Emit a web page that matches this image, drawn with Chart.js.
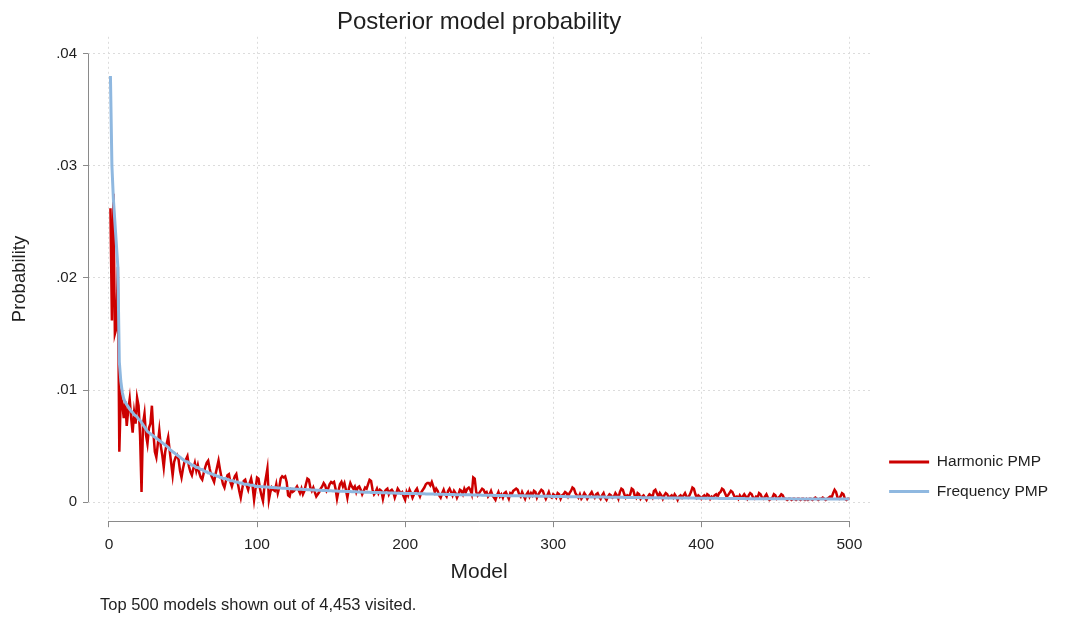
<!DOCTYPE html>
<html>
<head>
<meta charset="utf-8">
<script src="https://cdn.jsdelivr.net/npm/chart.js@4.4.1/dist/chart.umd.min.js"></script>
<style>
  html, body { margin: 0; padding: 0; background: #ffffff; }
  #wrap { width: 1067px; height: 618px; }
</style>
</head>
<body>
<div id="wrap"><canvas id="c" width="1067" height="618"></canvas></div>
<script>
// ---------- data ----------
const chartTitle = "Posterior model probability";
const xTitle = "Model";
const yTitle = "Probability";
const footnote = "Top 500 models shown out of 4,453 visited.";
const seriesNames = ["Harmonic PMP", "Frequency PMP"];
const xTicks = [0, 100, 200, 300, 400, 500];
const yTicks = [0, 0.01, 0.02, 0.03, 0.04];
const yTickLabels = ["0", ".01", ".02", ".03", ".04"];
const models = Array.from({length: 500}, (_, i) => i + 1);

const harmonicPMP = [
.0262,.0162,.0275,.0150,.0155,.0210,.0045,.0095,.0088,.0075,
.0090,.0068,.0082,.0092,.0075,.0062,.0080,.0070,.0093,.0086,
.0060,.0009,.0070,.0079,.0060,.0052,.0066,.0070,.0086,.0062,
.0045,.0040,.0052,.0064,.0050,.0042,.0031,.0045,.0052,.0058,
.0046,.0035,.0024,.0036,.0040,.0042,.0038,.0028,.0022,.0030,
.0036,.0038,.0041,.0032,.0027,.0024,.0030,.0035,.0028,.0033,
.0026,.0022,.0020,.0026,.0031,.0035,.0037,.0030,.0024,.0021,
.0018,.0025,.0031,.0037,.0029,.0022,.0016,.0013,.0019,.0024,
.0025,.0018,.0014,.0019,.0023,.0025,.0017,.0010,.0004,.0012,
.0019,.0020,.0015,.0011,.0017,.0021,.0014,.0002,.0012,.0022,
.0021,.0012,.0006,.0001,.0014,.0022,.0030,.0002,.0009,.0013,
.0011,.0010,.0016,.0008,.0013,.0021,.0023,.0022,.0023,.0018,
.0006,.0005,.0011,.0009,.0010,.0012,.0014,.0011,.0008,.0012,
.0007,.0010,.0016,.0021,.0020,.0013,.0010,.0013,.0009,.0005,
.0007,.0009,.0012,.0014,.0017,.0015,.0010,.0012,.0016,.0018,
.0017,.0018,.0012,.0003,.0010,.0016,.0018,.0014,.0017,.0011,
.0004,.0012,.0017,.0014,.0012,.0014,.0009,.0013,.0014,.0011,
.0007,.0010,.0013,.0012,.0016,.0020,.0019,.0011,.0007,.0009,
.0012,.0008,.0011,.0010,.0003,.0009,.0011,.0012,.0007,.0010,
.0011,.0009,.0004,.0008,.0012,.0010,.0008,.0009,.0005,.0002,
.0009,.0006,.0011,.0008,.0004,.0007,.0010,.0012,.0008,.0005,
.0009,.0011,.0013,.0016,.0017,.0017,.0015,.0018,.0014,.0009,
.0012,.0010,.0006,.0004,.0008,.0011,.0007,.0005,.0010,.0012,
.0009,.0006,.0010,.0008,.0004,.0007,.0011,.0010,.0007,.0012,
.0009,.0012,.0013,.0011,.0007,.0022,.0021,.0009,.0006,.0008,
.0010,.0012,.0011,.0008,.0009,.0005,.0007,.0010,.0006,.0004,
.0002,.0006,.0009,.0005,.0007,.0004,.0008,.0009,.0006,.0003,
.0008,.0007,.0010,.0011,.0012,.0011,.0007,.0005,.0009,.0006,
.0003,.0007,.0009,.0005,.0008,.0006,.0010,.0009,.0004,.0007,
.0009,.0011,.0010,.0006,.0003,.0006,.0009,.0005,.0004,.0007,
.0006,.0004,.0008,.0007,.0003,.0006,.0007,.0009,.0008,.0005,
.0008,.0010,.0013,.0012,.0008,.0006,.0004,.0007,.0003,.0005,
.0008,.0006,.0003,.0005,.0007,.0009,.0006,.0004,.0007,.0008,
.0005,.0003,.0006,.0008,.0004,.0002,.0005,.0007,.0006,.0004,
.0005,.0008,.0006,.0003,.0009,.0012,.0011,.0007,.0004,.0006,
.0005,.0007,.0012,.0011,.0006,.0004,.0008,.0007,.0003,.0005,
.0006,.0004,.0002,.0005,.0007,.0006,.0004,.0010,.0011,.0008,
.0005,.0008,.0006,.0003,.0006,.0008,.0007,.0004,.0005,.0006,
.0004,.0007,.0005,.0002,.0005,.0006,.0004,.0006,.0008,.0005,
.0004,.0006,.0009,.0013,.0012,.0007,.0004,.0006,.0005,.0003,
.0005,.0006,.0004,.0007,.0006,.0003,.0005,.0004,.0006,.0007,
.0005,.0008,.0009,.0012,.0011,.0008,.0005,.0006,.0008,.0010,
.0009,.0006,.0004,.0005,.0003,.0006,.0004,.0005,.0007,.0005,
.0003,.0006,.0008,.0007,.0004,.0003,.0005,.0004,.0008,.0007,
.0004,.0003,.0005,.0007,.0004,.0002,.0003,.0004,.0007,.0006,
.0003,.0004,.0005,.0007,.0006,.0003,.0003,.0002,.0003,.0003,
.0002,.0003,.0003,.0002,.0003,.0003,.0002,.0003,.0003,.0002,
.0003,.0002,.0003,.0003,.0002,.0003,.0004,.0003,.0002,.0003,
.0003,.0004,.0003,.0002,.0003,.0004,.0005,.0004,.0008,.0011,
.0009,.0004,.0003,.0005,.0008,.0007,.0003,.0002,.0003,.0003
];

const frequencyPMP = [
.0380,.0300,.0270,.0250,.0230,.0210,.0125,.0108,.0098,.0092,
.0089,.0087,.0085,.0083,.0081,.0080,.0078,.0077,.0076,.0074,
.0073,.0071,.0069,.0067,.0065,.0063,.0062,.0061,.0060,.0059,
.0058,.0057,.0056,.0055,.0054,.0053,.0052,.0051,.0050,.0049,
.0047,.0046,.0045,.0044,.0043,.0042,.0041,.0040,.0039,.0038,
.0037,.0036,.0036,.0035,.0034,.0033,.0033,.0032,.0031,.0031,
.0030,.0029,.0029,.0028,.0027,.0027,.0026,.0026,.0025,.0025,
.0024,.0024,.0023,.0023,.0022,.0022,.0021,.0021,.0021,.0020,
.0020,.0019,.0019,.0019,.0018,.0018,.0018,.0017,.0017,.0017,
.0016,.0016,.0016,.0016,.0015,.0015,.0015,.0015,.0014,.0014,
.00140,.00139,.00138,.00137,.00136,.00135,.00134,.00133,.00132,.00131,
.00130,.00129,.00128,.00127,.00126,.00125,.00124,.00124,.00123,.00122,
.00121,.00120,.00119,.00119,.00118,.00117,.00116,.00115,.00115,.00114,
.00113,.00112,.00112,.00111,.00110,.00110,.00109,.00108,.00108,.00107,
.00106,.00106,.00105,.00104,.00104,.00103,.00103,.00102,.00101,.00101,
.00100,.00100,.00099,.00099,.00098,.00097,.00097,.00096,.00096,.00095,
.00095,.00094,.00094,.00093,.00093,.00092,.00092,.00091,.00091,.00090,
.00090,.00089,.00089,.00088,.00088,.00088,.00087,.00087,.00086,.00086,
.00085,.00085,.00085,.00084,.00084,.00083,.00083,.00083,.00082,.00082,
.00081,.00081,.00081,.00080,.00080,.00080,.00079,.00079,.00078,.00078,
.00078,.00077,.00077,.00077,.00076,.00076,.00076,.00075,.00075,.00075,
.00074,.00074,.00074,.00073,.00073,.00073,.00072,.00072,.00072,.00071,
.00071,.00071,.00071,.00070,.00070,.00070,.00069,.00069,.00069,.00068,
.00068,.00068,.00068,.00067,.00067,.00067,.00066,.00066,.00066,.00066,
.00065,.00065,.00065,.00065,.00064,.00064,.00064,.00063,.00063,.00063,
.00063,.00062,.00062,.00062,.00062,.00061,.00061,.00061,.00061,.00060,
.00060,.00060,.00060,.00059,.00059,.00059,.00059,.00058,.00058,.00058,
.00058,.00057,.00057,.00057,.00057,.00056,.00056,.00056,.00056,.00056,
.00055,.00055,.00055,.00055,.00054,.00054,.00054,.00054,.00054,.00053,
.00053,.00053,.00053,.00052,.00052,.00052,.00052,.00052,.00051,.00051,
.00051,.00051,.00051,.00050,.00050,.00050,.00050,.00050,.00049,.00049,
.00049,.00049,.00049,.00048,.00048,.00048,.00048,.00048,.00047,.00047,
.00047,.00047,.00047,.00047,.00046,.00046,.00046,.00046,.00046,.00045,
.00045,.00045,.00045,.00045,.00045,.00044,.00044,.00044,.00044,.00044,
.00044,.00043,.00043,.00043,.00043,.00043,.00043,.00042,.00042,.00042,
.00042,.00042,.00042,.00041,.00041,.00041,.00041,.00041,.00041,.00040,
.00040,.00040,.00040,.00040,.00040,.00040,.00039,.00039,.00039,.00039,
.00039,.00039,.00039,.00038,.00038,.00038,.00038,.00038,.00038,.00038,
.00037,.00037,.00037,.00037,.00037,.00037,.00037,.00036,.00036,.00036,
.00036,.00036,.00036,.00036,.00036,.00035,.00035,.00035,.00035,.00035,
.00035,.00035,.00035,.00034,.00034,.00034,.00034,.00034,.00034,.00034,
.00034,.00033,.00033,.00033,.00033,.00033,.00033,.00033,.00033,.00033,
.00032,.00032,.00032,.00032,.00032,.00032,.00032,.00032,.00032,.00031,
.00031,.00031,.00031,.00031,.00031,.00031,.00031,.00031,.00031,.00031,
.00031,.00031,.00030,.00030,.00030,.00030,.00030,.00030,.00030,.00030,
.00030,.00030,.00030,.00030,.00030,.00030,.00030,.00030,.00030,.00030,
.00030,.00029,.00029,.00029,.00029,.00029,.00029,.00029,.00029,.00029,
.00029,.00029,.00029,.00029,.00029,.00029,.00029,.00029,.00029,.00029,
.00029,.00029,.00028,.00028,.00028,.00028,.00028,.00028,.00028,.00028,
.00028,.00028,.00028,.00028,.00028,.00028,.00028,.00028,.00028,.00028
];

// ---------- styling ----------
const FONT = "'Liberation Sans', Arial, Helvetica, sans-serif";
const TEXT = "#1f1f1f";
const AXIS = "#8a8a8a";
const GRID = "#dcdcdc";

const axisLinesPlugin = {
  id: 'axisLines',
  beforeDatasetsDraw(chart) {
    const {ctx, chartArea, scales: {x, y}} = chart;
    ctx.save();
    ctx.strokeStyle = AXIS;
    ctx.lineWidth = 1;
    ctx.beginPath();
    const yb = Math.round(chartArea.bottom) + 0.5;
    ctx.moveTo(x.getPixelForValue(xTicks[0]), yb);
    ctx.lineTo(x.getPixelForValue(xTicks[xTicks.length - 1]), yb);
    const xl = Math.round(chartArea.left) + 0.5;
    ctx.moveTo(xl, y.getPixelForValue(yTicks[0]));
    ctx.lineTo(xl, y.getPixelForValue(yTicks[yTicks.length - 1]));
    ctx.stroke();
    ctx.restore();
  }
};

const layoutTweaks = {
  id: 'layoutTweaks',
  afterLayout(chart) {
    const lg = chart.legend;
    if (lg) {
      const h = lg.bottom - lg.top;
      lg.bottom = chart.chartArea.bottom - 8;
      lg.top = lg.bottom - h;
      lg.left += 5; lg.right += 5;
    }
    chart.boxes.forEach(b => {
      if (b.options && b.options.text === footnote) { b.left += 12; b.right += 12; }
    });
  }
};

new Chart(document.getElementById('c'), {
  type: 'line',
  data: {
    labels: models,
    datasets: [
      { label: seriesNames[0], data: harmonicPMP, borderColor: '#cc0000', backgroundColor: '#cc0000',
        borderWidth: 2.5, pointRadius: 0, tension: 0, order: 1 },
      { label: seriesNames[1], data: frequencyPMP, borderColor: '#8fb8e0', backgroundColor: '#8fb8e0',
        borderWidth: 3, pointRadius: 0, tension: 0, order: 0 }
    ]
  },
  options: {
    responsive: false,
    devicePixelRatio: 1,
    animation: false,
    layout: { padding: { left: 0, right: 14, top: 0, bottom: 0 } },
    plugins: {
      title: { display: true, text: chartTitle, color: TEXT, fullSize: false,
        font: { family: FONT, size: 24, weight: 'normal', lineHeight: 1.2 },
        padding: { top: 8, bottom: 0 } },
      subtitle: { display: true, text: footnote, position: 'bottom', align: 'start', fullSize: false,
        color: TEXT, font: { family: FONT, size: 16.5, weight: 'normal', lineHeight: 1.2 },
        padding: { top: 3, bottom: 3 } },
      legend: { display: true, position: 'right', align: 'end',
        labels: { boxWidth: 40, boxHeight: 3, padding: 14, color: TEXT,
          font: { family: FONT, size: 15.5 },
          generateLabels: chart => Chart.defaults.plugins.legend.labels.generateLabels(chart)
            .map(l => Object.assign(l, { lineWidth: 0 })),
          sort: (a, b) => a.datasetIndex - b.datasetIndex } },
      tooltip: { enabled: false }
    },
    scales: {
      x: {
        type: 'linear', min: -14.15, max: 514,
        afterBuildTicks: s => { s.ticks = xTicks.map(v => ({ value: v })); },
        afterFit: s => { s.height = 71; },
        border: { display: false, dash: [2, 3] },
        grid: { color: GRID, lineWidth: 1, drawTicks: true, tickLength: 6,
          tickColor: AXIS, tickWidth: 1, tickBorderDash: [] },
        ticks: { color: TEXT, font: { family: FONT, size: 15.5 }, padding: 8, maxRotation: 0, autoSkip: false,
          callback: v => String(v) },
        title: { display: true, text: xTitle, color: TEXT, font: { family: FONT, size: 21, lineHeight: 1.2 },
          padding: { top: 0, bottom: 7 } }
      },
      y: {
        type: 'linear', min: -0.0017, max: 0.0415,
        afterBuildTicks: s => { s.ticks = yTicks.map(v => ({ value: v })); },
        afterFit: s => { s.width = 88; },
        border: { display: false, dash: [2, 3] },
        grid: { color: GRID, lineWidth: 1, drawTicks: true, tickLength: 5,
          tickColor: AXIS, tickWidth: 1, tickBorderDash: [] },
        ticks: { color: TEXT, font: { family: FONT, size: 15 }, padding: 6,
          callback: v => { const i = yTicks.findIndex(t => Math.abs(t - v) < 1e-9); return i >= 0 ? yTickLabels[i] : ''; } },
        title: { display: true, text: yTitle, color: TEXT, font: { family: FONT, size: 18.5, lineHeight: 1.2 },
          padding: { top: 9, bottom: 0 } }
      }
    }
  },
  plugins: [axisLinesPlugin, layoutTweaks]
});
</script>
</body>
</html>
